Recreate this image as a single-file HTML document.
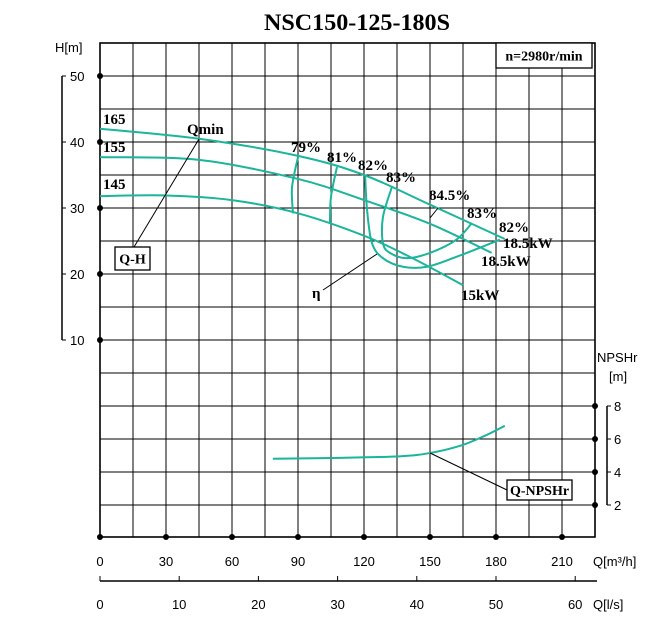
<!DOCTYPE html>
<html><head><meta charset="utf-8"><style>
html,body{margin:0;padding:0;background:#fff;}
svg{display:block;font-family:"Liberation Serif",serif;}
.b{font-weight:bold;}
.s{font-family:"Liberation Sans",sans-serif;font-size:13px;}
</style></head><body>
<svg id="c" width="651" height="629" viewBox="0 0 651 629" xmlns="http://www.w3.org/2000/svg">
<text x="264" y="30" class="b" font-size="23" textLength="186" lengthAdjust="spacingAndGlyphs">NSC150-125-180S</text>
<g id="grid"></g>
<g id="axes"></g>
<g id="curves"></g>
<g id="ann"></g>
</svg>
<script>
const qTicks=[0,30,60,90,120,150,180,210];
const lsTicks=[0,10,20,30,40,50,60];
const hTicks=[50,40,30,20,10];
const npTicks=[8,6,4,2];
const qh165Q=[0,45,90,120,150,184];
const qh165H=[42,40.5,37.9,35,30.5,25.3];
const qh155Q=[0,45,90,120,150,178];
const qh155H=[37.7,37.3,34.4,31.2,27.6,23.2];
const qh145Q=[0,30,60,90,120,142,165];
const qh145H=[31.8,31.9,31.2,29.2,25.8,22.4,18.3];
const e79Q=[90,87.3,87.7];const e79H=[37.7,33.2,29.2];
const e81Q=[107.7,105,104.5];const e81H=[36.2,31.7,27.7];
const e82Q=[120.5,121.4,123.6,128.6,137.7,148.6,162,181.8];
const e82H=[35,29.7,24.7,22.4,21.1,21.1,22.6,25.2];
const e83Q=[132.7,128.6,128.6,131.8,139.5,150,162,169];
const e83H=[33.2,28.6,24.7,23.2,22.4,23.2,25.2,27.7];
const npQ=[78.6,104.5,136,150,164,175,184];
const npV=[4.8,4.85,4.95,5.15,5.6,6.2,6.8];

const NS='http://www.w3.org/2000/svg';
const X=q=>100+q*2.2, Y=h=>76+(50-h)*6.6, YN=n=>538-n*16.5;
function el(p,t,a){const e=document.createElementNS(NS,t);for(const k in a)e.setAttribute(k,a[k]);p.appendChild(e);return e;}
const grid=document.getElementById('grid'),axes=document.getElementById('axes'),cv=document.getElementById('curves'),ann=document.getElementById('ann');
for(let i=0;i<=15;i++){const x=100+i*33;if(x>595)break;const l=el(grid,'line',{x1:x,y1:43,x2:x,y2:537,stroke:'#000','stroke-width':1});

}
for(let i=0;i<=15;i++){const y=43+i*33;if(y>537)break;const l=el(grid,'line',{x1:100,y1:y,x2:595,y2:y,stroke:'#000','stroke-width':1});

}
const fr=el(grid,'rect',{x:100,y:43,width:495,height:494,fill:'none',stroke:'#000','stroke-width':1.6});


function txt(p,x,y,s,cls,anchor,name){const t=el(p,'text',{x:x,y:y,class:cls,'text-anchor':anchor||'start'});t.textContent=s;

return t;}
qTicks.forEach(q=>{const d=el(axes,'circle',{cx:X(q),cy:537,r:3,fill:'#000'});


txt(axes,X(q),566,q,'s','middle','q-tick-label');});
txt(axes,593,566,'Q[m³/h]','s','start','q-axis-title').setAttribute('font-size','11');
el(axes,'line',{x1:100,y1:581,x2:597,y2:581,stroke:'#000','stroke-width':1.5});
lsTicks.forEach(v=>{const x=X(v*3.6);el(axes,'line',{x1:x,y1:581,x2:x,y2:576,stroke:'#000'});
txt(axes,x,609,v,'s','middle','ls-tick-label');});
txt(axes,593,609,'Q[l/s]','s','start','ls-axis-title').setAttribute('font-size','11');
el(axes,'line',{x1:62,y1:76,x2:62,y2:340,stroke:'#000','stroke-width':1.5});
hTicks.forEach(h=>{const y=Y(h);el(axes,'line',{x1:62,y1:y,x2:66,y2:y,stroke:'#000'});
const d=el(axes,'circle',{cx:100,cy:y,r:3,fill:'#000'});


txt(axes,70,y+5,h,'s','start','h-tick-label');});
txt(axes,55,52,'H[m]','s','start','h-axis-title').setAttribute('font-size','11');
el(axes,'line',{x1:607,y1:406,x2:607,y2:505,stroke:'#000','stroke-width':1.5});
npTicks.forEach(n=>{const y=YN(n);el(axes,'line',{x1:607,y1:y,x2:611,y2:y,stroke:'#000'});
const d=el(axes,'circle',{cx:595,cy:y,r:3,fill:'#000'});


txt(axes,614,y+5,n,'s','start','npsh-tick-label');});
txt(axes,597,362,'NPSHr','s','start','npsh-axis-title').setAttribute('font-size','11');
txt(axes,609,381,'[m]','s','start','npsh-axis-unit').setAttribute('font-size','11');
function curve(qs,vs,fy,name,w){const pts=qs.map((q,i)=>[X(q),fy(vs[i])]);
let d='M'+pts[0][0]+','+pts[0][1];
for(let i=0;i<pts.length-1;i++){const p0=pts[i-1]||pts[i],p1=pts[i],p2=pts[i+1],p3=pts[i+2]||p2;
d+=' C'+(p1[0]+(p2[0]-p0[0])/6)+','+(p1[1]+(p2[1]-p0[1])/6)+' '+(p2[0]-(p3[0]-p1[0])/6)+','+(p2[1]-(p3[1]-p1[1])/6)+' '+p2[0]+','+p2[1];}
const p=el(cv,'path',{d:d,fill:'none',stroke:'#1ab59a','stroke-width':w||2});

}
curve(qh165Q,qh165H,Y,'qh-curve-165');
curve(qh155Q,qh155H,Y,'qh-curve-155');
curve(qh145Q,qh145H,Y,'qh-curve-145');
curve(e79Q,e79H,Y,'eff-79');
curve(e81Q,e81H,Y,'eff-81');
curve(e82Q,e82H,Y,'eff-82');
curve(e83Q,e83H,Y,'eff-83');
curve(npQ,npV,YN,'npsh-curve');
function ln(x1,y1,x2,y2){el(ann,'line',{x1:x1,y1:y1,x2:x2,y2:y2,stroke:'#000','stroke-width':1});}
ln(199,139,134,247);ln(323,290,377,254);ln(430,218,438,208);ln(430,453,507,490);
const bx=[[115,247,35,23,'Q-H','qh-label-box'],[507,480,65,20,'Q-NPSHr','npsh-label-box'],[496,43,96,25,'n=2980r/min','speed-box']];
bx.forEach(b=>{const r=el(ann,'rect',{x:b[0],y:b[1],width:b[2],height:b[3],fill:'#fff',stroke:'#000','stroke-width':1.3});


const t=txt(ann,b[0]+b[2]/2,b[1]+b[3]/2+5,b[4],'b','middle',b[5]+'-text');t.setAttribute('font-size','14');});
const labs=[[103,124,'165'],[103,152,'155'],[103,189,'145'],[187,134,'Qmin'],[291,152,'79%'],[327,162,'81%'],[358,170,'82%'],[386,182,'83%'],[429,200,'84.5%'],[467,218,'83%'],[499,232,'82%'],[503,248,'18.5kW'],[481,266,'18.5kW'],[461,300,'15kW'],[312,298,'η']];
labs.forEach(l=>{const t=txt(ann,l[0],l[1],l[2],'b','start','curve-label');t.setAttribute('font-size','15');});
</script>
</body></html>
